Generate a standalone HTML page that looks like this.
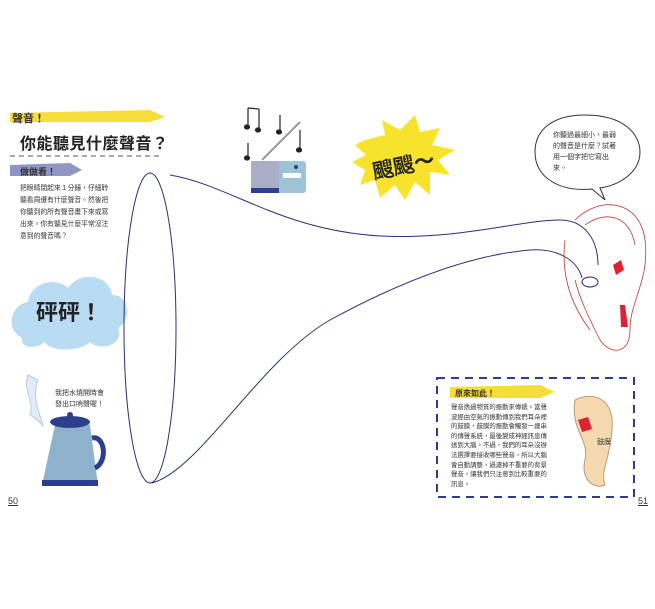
<!DOCTYPE html>
<html><head><meta charset="utf-8"><style>
body{margin:0;width:655px;height:609px;background:#fff;overflow:hidden;position:relative;font-family:"Liberation Sans","Noto Sans CJK TC",sans-serif;}
.t{position:absolute;color:#333;}
</style></head><body>
<svg width="655" height="609" style="position:absolute;left:0;top:0">
<path d="M10 113 L150 110 L165 117 L150 122 L10 122 Z" fill="#f6de3a"/>
<line x1="10" y1="156" x2="160" y2="156" stroke="#555" stroke-dasharray="5,4"/>
<path d="M10 165 L70 163 L82 170 L70 176 L10 176 Z" fill="#8f95c4"/>
<path d="M22 338 C5 330 10 305 28 302 C30 283 55 276 68 288 C80 270 110 275 112 295 C130 295 132 320 118 328 C125 345 100 352 90 342 C80 352 50 352 45 342 C35 350 20 348 22 338 Z" fill="#b9dcf3"/>
<g fill="none" stroke="#2b2f7a" stroke-width="1">
<ellipse cx="150" cy="328" rx="26" ry="155"/>
<path d="M170 175 C230 185 280 230 380 236 C460 240 520 220 560 220 C585 220 598 240 598 265"/>
<path d="M152 483 C200 470 260 360 330 320 C400 282 470 255 530 250 C560 248 578 262 582 278"/>
<ellipse cx="590" cy="282" rx="8" ry="5"/>
</g>
<g fill="none" stroke="#c0392b" stroke-width="0.8">
<path d="M575 220 C600 195 640 200 645 240 C650 280 630 300 630 330 C630 355 610 355 600 340 C590 320 580 300 575 280"/>
<path d="M585 225 C605 210 630 215 635 245"/>
<path d="M565 240 C560 280 575 310 590 330"/>
</g>
<path d="M613 265 l8 -5 l3 10 l-8 5z" fill="#d23"/>
<path d="M620 305 l5 0 l3 22 l-7 0z" fill="#d23"/>
<path d="M585 115 C625 115 640 135 640 152 C640 172 620 185 600 188 L605 200 L592 189 C560 192 535 178 535 152 C535 128 555 115 585 115 Z" fill="#fff" stroke="#333"/>
<polygon points="365,140 385,135 382,120 400,130 415,115 420,132 440,128 432,145 455,150 438,160 450,175 430,172 430,195 415,182 405,200 395,185 380,198 375,180 360,185 365,170 352,162 366,155 355,145" fill="#f7e32b"/>
<line x1="262" y1="160" x2="300" y2="122" stroke="#999" stroke-width="2"/>
<rect x="251" y="161" width="55" height="32" rx="3" fill="#9fc3d6"/>
<rect x="251" y="161" width="28" height="32" fill="#a9adc8"/>
<rect x="251" y="188" width="28" height="5" fill="#2c3e8c"/>
<rect x="283" y="173" width="18" height="5" fill="#fff"/>
<circle cx="296" cy="167" r="2" fill="#2c3e8c"/>
<g stroke="#222" stroke-width="1.2" fill="#222">
<line x1="248" y1="108" x2="248" y2="127"/><line x1="259" y1="109" x2="259" y2="130"/><line x1="248" y1="108" x2="259" y2="109"/>
<ellipse cx="247" cy="127" rx="2.5" ry="2"/><ellipse cx="258" cy="130" rx="2.5" ry="2"/>
<line x1="280" y1="115" x2="280" y2="132"/><ellipse cx="279" cy="132" rx="2.5" ry="2"/>
<line x1="248" y1="143" x2="248" y2="158"/><ellipse cx="247" cy="158" rx="2.5" ry="2"/>
<line x1="300" y1="130" x2="300" y2="150"/><ellipse cx="299" cy="150" rx="2.5" ry="2"/>
</g>
<path d="M28 375 C22 390 35 400 30 415 C40 420 45 430 43 425 C38 410 32 395 38 380 Z" fill="#e2ecf6" stroke="#b9cbe0"/>
<path d="M55 425 C70 420 80 420 90 425 L98 485 L42 485 Z" fill="#8eb2cc"/>
<ellipse cx="70" cy="422" rx="20" ry="6" fill="#2c3e8c"/>
<circle cx="70" cy="415" r="3" fill="#2c3e8c"/>
<path d="M92 438 C105 435 108 462 95 468" fill="none" stroke="#2c3e8c" stroke-width="5"/>
<rect x="42" y="480" width="56" height="6" fill="#2c3e8c"/>
<path d="M450 387 L540 385 L555 392 L540 398 L450 398Z" fill="#f6de3a"/>
<rect x="437" y="378" width="197" height="119" fill="none" stroke="#2c3e8c" stroke-width="2" stroke-dasharray="8,6"/>
<path d="M575 400 C595 390 615 400 612 430 C610 460 600 470 605 485 C595 490 580 480 585 460 C590 440 570 430 575 400 Z" fill="#f4d8b0" stroke="#b89a70"/>
<path d="M578 420 l10 -3 l4 12 l-10 3z" fill="#d23"/>
</svg>
<div class="t" style="left:12px;top:110px;font-size:11px;font-weight:bold">聲音！</div>
<div class="t" style="left:20px;top:130px;font-size:16px;font-weight:bold;color:#222;letter-spacing:0.5px">你能聽見什麼聲音？</div>
<div class="t" style="left:20px;top:165px;font-size:9px;font-weight:bold">做做看！</div>
<div class="t" style="left:20px;top:183px;font-size:6.8px;line-height:12px;width:93px">把眼睛閉起來１分鐘，仔細聆聽看周遭有什麼聲音。然後把你聽到的所有聲音畫下來或寫出來。你有聽見什麼平常沒注意到的聲音嗎？</div>
<div class="t" style="left:36px;top:295px;font-size:22px;font-weight:bold;color:#222">砰砰！</div>
<div class="t" style="left:55px;top:388px;font-size:7px;line-height:11px">我把水燒開時會<br>發出口哨聲喔！</div>
<div class="t" style="left:372px;top:150px;font-size:21px;font-weight:bold;color:#222;transform:rotate(-12deg)">颼颼～</div>
<div class="t" style="left:553px;top:130px;font-size:7px;line-height:11px;width:68px">你聽過最細小、最弱的聲音是什麼？試著用一個字把它寫出來。</div>
<div class="t" style="left:455px;top:388px;font-size:8px;font-weight:bold">原來如此！</div>
<div class="t" style="left:451px;top:403px;font-size:6.4px;line-height:9.6px;width:100px">聲音透過物質的振動來傳遞。當聲波經由空氣的振動傳到我們耳朵裡的鼓膜，鼓膜的振動會觸發一連串的傳聲系統，最後變成神經訊息傳送到大腦。不過，我們的耳朵沒辦法選擇要接收哪些聲音，所以大腦會自動調整，過濾掉不重要的背景聲音，讓我們只注意到比較重要的訊息。</div>
<div class="t" style="left:597px;top:437px;font-size:7px">鼓膜</div>
<div class="t" style="left:8px;top:496px;font-size:9px;text-decoration:underline">50</div>
<div class="t" style="left:638px;top:496px;font-size:9px;text-decoration:underline">51</div>
</body></html>
